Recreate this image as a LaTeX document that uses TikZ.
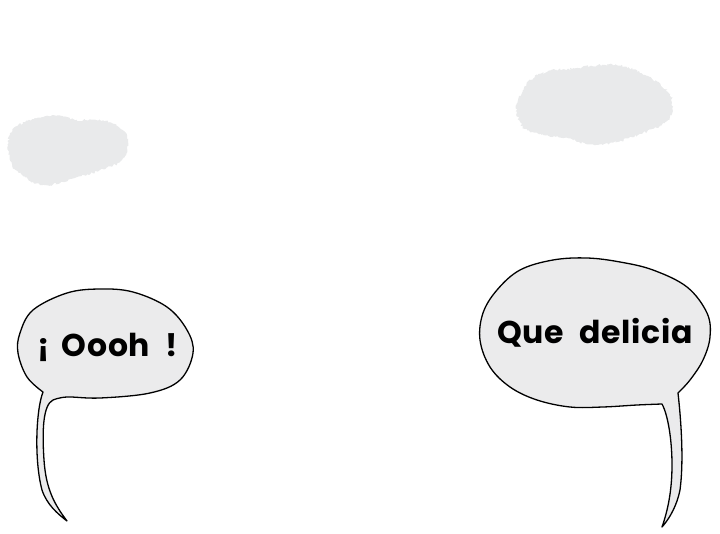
\documentclass[tikz,border=0pt]{standalone}
\usepackage{fontspec}
\setmainfont{Poppins}
\newfontfamily\speechfont{Poppins}[LetterSpace=2]
\usetikzlibrary{decorations.pathmorphing}
\definecolor{bubblefill}{HTML}{EBEBEC}
\definecolor{cloudfill}{HTML}{E9EAEB}
\begin{document}
\begin{tikzpicture}[x=1pt,y=-1pt,
  bubble/.style={draw=black,fill=bubblefill,line width=1.3pt,line join=round},
  cloud/.style={fill=cloudfill,decorate,decoration={random steps,segment length=1.6pt,amplitude=1.2pt}},
  speech/.style={font=\speechfont\bfseries\fontsize{31.5}{36}\selectfont,text=black,inner sep=0pt}]
\useasboundingbox (0,0) rectangle (720,534);
% clouds
\path[cloud] plot[smooth cycle,tension=0.7] coordinates {(10,135) (25,122) (53,115) (75,120) (100,120) (120,128) (128,142) (122,160) (100,170) (75,178) (45,185) (22,175) (10,160)};
\path[cloud] plot[smooth cycle,tension=0.7] coordinates {(518,100) (538,75) (578,68) (615,65) (645,75) (668,92) (672,108) (665,122) (638,135) (598,145) (565,138) (532,132) (520,122)};
% left bubble
\coordinate (lj1) at (53,400);
\coordinate (lj2) at (43,392);
\coordinate (ltip) at (67,521);
\draw[bubble] (lj1) -- plot[smooth,tension=0.6] coordinates {(53,400) (67,397) (100,398) (150,393) (180,380) (193,353) (187,330) (167,307) (133,292) (100,289) (67,293) (33,310) (20,333) (18,353) (27,377) (43,392)}
  .. controls (36,410) and (34,460) .. (42,490)
  .. controls (47,505) and (58,514) .. (ltip)
  .. controls (55,505) and (46,490) .. (44,460)
  .. controls (42,430) and (43,405) .. (lj1) -- cycle;
\node[speech] (oooh) at (108,347) {¡\hspace{12pt}Oooh\hspace{16pt}!};
% right bubble
\coordinate (rj1) at (662,404);
\coordinate (rj2) at (678,393);
\coordinate (rtip) at (662,527);
\draw[bubble] (rj1) -- plot[smooth,tension=0.6] coordinates {(662,404) (637,405) (603,407) (570,407) (537,400) (510,387) (490,367) (480,340) (483,313) (497,290) (520,270) (553,260) (587,258) (620,262) (653,270) (687,287) (707,313) (710,337) (703,360) (690,380) (678,393)}
  .. controls (681,420) and (684,460) .. (680,490)
  .. controls (677,505) and (670,518) .. (rtip)
  .. controls (668,510) and (672,490) .. (672,465)
  .. controls (672,440) and (668,415) .. (rj1) -- cycle;
\node[speech] (que) at (595,333) {Que\hspace{16pt}delicia};
\end{tikzpicture}
\end{document}
